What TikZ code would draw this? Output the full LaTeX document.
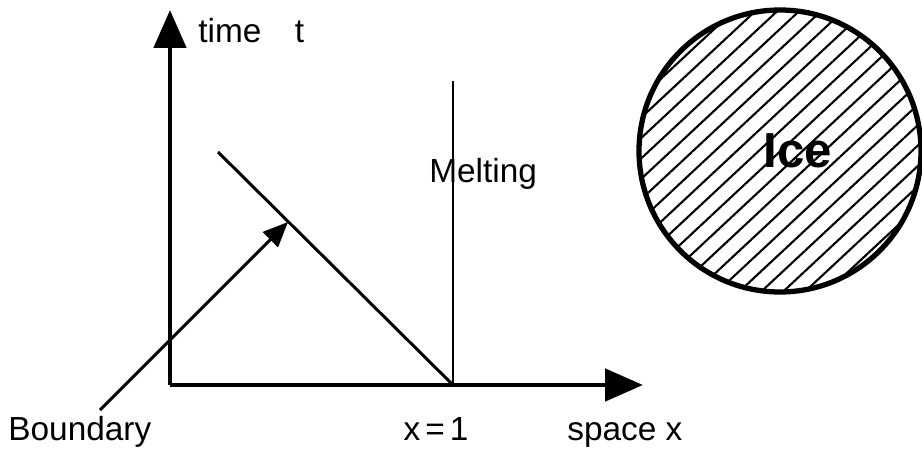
\documentclass[tikz,border=0pt]{standalone}
\usepackage{fontspec}
\setmainfont{Liberation Sans}
\usepackage{tikz}
\usetikzlibrary{arrows.meta,positioning,patterns.meta}

\begin{document}
\begin{tikzpicture}[>={Triangle[length=0.76cm,width=0.64cm]}, every node/.style={font=\fontsize{19}{21}\selectfont, inner sep=0pt}]
\useasboundingbox (0,0) rectangle (18.44,9);
% axes
\coordinate (o) at (3.4,1.3);
\coordinate (ttip) at (3.4,8.8);
\coordinate (xtip) at (12.86,1.3);
\coordinate (x1) at (9.06,1.3);
\coordinate (btop) at (4.36,5.96);
\coordinate (mtop) at (9.06,7.38);
\coordinate (bend) at (5.76,4.56);
\coordinate (btail) at (2.0,0.8);
\draw[->,line width=2.8pt] (o) -- (ttip);
\draw[->,line width=2.8pt] (o) -- (xtip);
\draw[line width=1.7pt] (btop) -- (x1);
\draw[line width=1.7pt] (x1) -- (mtop);
\draw[-{Triangle[length=0.5cm,width=0.42cm]},line width=1.7pt] (btail) -- (bend);
% labels
\node[anchor=base west] (time) at (3.96,8.14) {time\quad t};
\node[anchor=base west] (melt) at (8.58,5.34) {Melting};
\node[anchor=base west] (bnd) at (0.16,0.2) {Boundary};
\node[anchor=base] (xone) at (8.72,0.2) {x$\,$=$\,$1};
\node[anchor=base west] (space) at (11.34,0.2) {space x};
% ice
\node[circle, draw, line width=3pt, minimum size=5.64cm, pattern={Lines[angle=43,distance=8.5pt,line width=1.2pt]}] (ice) at (15.6,5.98) {};
\node[font=\fontsize{28}{30}\selectfont\bfseries] (icelbl) at (15.96,5.98) {Ice};
\end{tikzpicture}
\end{document}
